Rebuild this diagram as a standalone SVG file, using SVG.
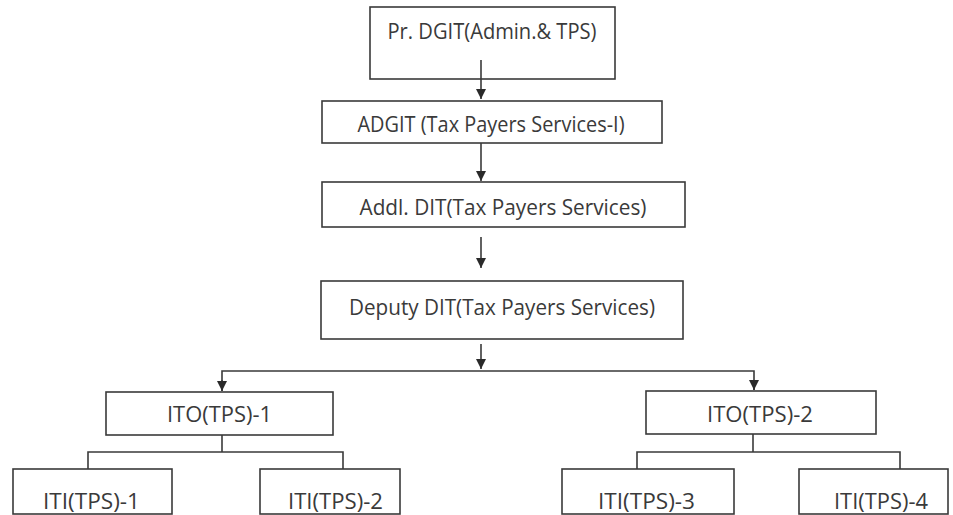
<svg xmlns="http://www.w3.org/2000/svg" width="953" height="515" viewBox="0 0 953 515">
<defs>
<style>
.box{fill:#fff;stroke:#3a3a3a;stroke-width:1.6}
.t{font-family:"Open Sans","Noto Sans","Liberation Sans",sans-serif;fill:#3a3a3a;text-anchor:middle}
.ln{fill:none;stroke:#3a3a3a;stroke-width:1.6}
</style>
<marker id="ah" viewBox="0 0 10 10" refX="10" refY="5" markerWidth="10" markerHeight="10" markerUnits="userSpaceOnUse" orient="auto">
<path d="M0,0 L10,5 L0,10 Z" fill="#2a2a2a"/>
</marker>
</defs>
<rect width="953" height="515" fill="#fff"/>
<g id="n1"><rect class="box" x="370" y="7" width="245" height="72"/><text class="t" x="492" y="39" font-size="21" textLength="209" lengthAdjust="spacingAndGlyphs">Pr. DGIT(Admin.&amp; TPS)</text></g>
<g id="n2"><rect class="box" x="322" y="101" width="340" height="42"/><text class="t" x="491" y="132" font-size="21" textLength="267" lengthAdjust="spacingAndGlyphs">ADGIT (Tax Payers Services-I)</text></g>
<g id="n3"><rect class="box" x="322" y="182" width="363" height="45"/><text class="t" x="503" y="215" font-size="22" textLength="287" lengthAdjust="spacingAndGlyphs">Addl. DIT(Tax Payers Services)</text></g>
<g id="n4"><rect class="box" x="321" y="281" width="362" height="58"/><text class="t" x="502" y="315" font-size="22" textLength="306" lengthAdjust="spacingAndGlyphs">Deputy DIT(Tax Payers Services)</text></g>
<g id="n5"><rect class="box" x="106" y="392" width="227" height="43"/><text class="t" x="219.5" y="422" font-size="22" textLength="105" lengthAdjust="spacingAndGlyphs">ITO(TPS)-1</text></g>
<g id="n6"><rect class="box" x="646" y="391" width="230" height="43"/><text class="t" x="760" y="422" font-size="22" textLength="106" lengthAdjust="spacingAndGlyphs">ITO(TPS)-2</text></g>
<g id="n7"><rect class="box" x="13" y="469" width="159" height="45"/><text class="t" x="91.5" y="509" font-size="22" textLength="97" lengthAdjust="spacingAndGlyphs">ITI(TPS)-1</text></g>
<g id="n8"><rect class="box" x="260" y="469" width="140" height="45"/><text class="t" x="335.5" y="509" font-size="22" textLength="95" lengthAdjust="spacingAndGlyphs">ITI(TPS)-2</text></g>
<g id="n9"><rect class="box" x="562" y="469" width="172" height="45"/><text class="t" x="646.5" y="509" font-size="22" textLength="97" lengthAdjust="spacingAndGlyphs">ITI(TPS)-3</text></g>
<g id="n10"><rect class="box" x="799" y="469" width="149" height="45"/><text class="t" x="881" y="509" font-size="22" textLength="94" lengthAdjust="spacingAndGlyphs">ITI(TPS)-4</text></g>
<g id="connectors">
<line class="ln" x1="481" y1="60" x2="481" y2="99" marker-end="url(#ah)"/>
<line class="ln" x1="481" y1="143" x2="481" y2="181" marker-end="url(#ah)"/>
<line class="ln" x1="481" y1="237" x2="481" y2="268" marker-end="url(#ah)"/>
<line class="ln" x1="481" y1="344" x2="481" y2="369" marker-end="url(#ah)"/>
<polyline class="ln" points="222,391 222,371 754,371 754,390"/>
<line class="ln" x1="222" y1="380" x2="222" y2="391" marker-end="url(#ah)"/>
<line class="ln" x1="754" y1="380" x2="754" y2="390" marker-end="url(#ah)"/>
<polyline class="ln" points="222,435 222,452"/>
<polyline class="ln" points="88,469 88,452 343,452 343,469"/>
<polyline class="ln" points="753,434 753,452"/>
<polyline class="ln" points="637,469 637,452 900,452 900,469"/>
</g>
</svg>
